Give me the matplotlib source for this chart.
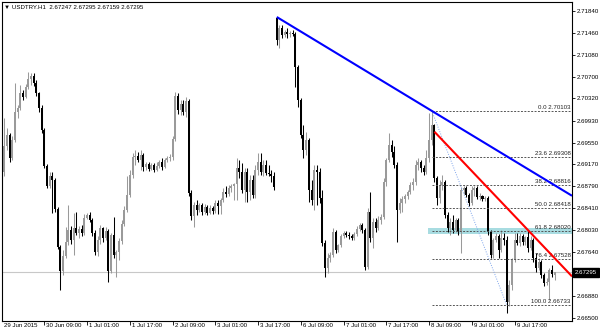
import matplotlib
matplotlib.use("Agg")
import matplotlib.pyplot as plt
import numpy as np

plt.rcParams['font.family'] = ['Liberation Sans', 'DejaVu Sans']

symbol = "USDTRY.H1"

# hourly candles (bar 0 = 29 Jun 2015 17:00)
opens = [
    2.68987, 2.69039, 2.69491, 2.69683, 2.69283, 2.69596, 2.70083, 2.70153, 2.70413, 2.70344,
    2.70518, 2.70657, 2.70709, 2.70587, 2.70413, 2.70153, 2.69770, 2.69144, 2.68796, 2.68970,
    2.68900, 2.68396, 2.67735, 2.67317, 2.67578, 2.67822, 2.68030, 2.67856, 2.68065, 2.67978,
    2.68048, 2.67978, 2.68239, 2.68291, 2.68204, 2.67978, 2.67648, 2.67856, 2.68065, 2.67891,
    2.68013, 2.67317, 2.67943, 2.67596, 2.67648, 2.67839, 2.68135, 2.68378, 2.68639, 2.68987,
    2.69300, 2.69317, 2.69248, 2.69335, 2.69126, 2.69178, 2.69091, 2.69161, 2.69074, 2.69144,
    2.69213, 2.69126, 2.69248, 2.69283, 2.69300, 2.69613, 2.70361, 2.70118, 2.70222, 2.70083,
    2.70274, 2.68674, 2.68274, 2.68465, 2.68378, 2.68465, 2.68343, 2.68430, 2.68326, 2.68413,
    2.68361, 2.68500, 2.68448, 2.68552, 2.68691, 2.68657, 2.68761, 2.68796, 2.68831, 2.69109,
    2.69039, 2.68726, 2.69039, 2.68691, 2.68900, 2.68639, 2.69074, 2.69213, 2.69039, 2.69161,
    2.69022, 2.69004, 2.68970, 2.71718, 2.71335, 2.71544, 2.71422, 2.71474, 2.71440, 2.71457,
    2.71440, 2.70866, 2.70292, 2.69683, 2.69422, 2.69596, 2.68726, 2.68552, 2.69074, 2.69039,
    2.68587, 2.67804, 2.67370, 2.67544, 2.67596, 2.67996, 2.67683, 2.67769, 2.67926, 2.67978,
    2.67943, 2.67926, 2.67891, 2.67961, 2.68048, 2.68117, 2.68030, 2.67387, 2.68343, 2.67891,
    2.68170, 2.68065, 2.68204, 2.68257, 2.68865, 2.69248, 2.69509, 2.69387, 2.69161, 2.68378,
    2.68500, 2.68570, 2.68622, 2.68691, 2.68813, 2.68865, 2.69161, 2.69213, 2.69109, 2.69039,
    2.69283, 2.69596, 2.69857, 2.68935, 2.68587, 2.68813, 2.68865, 2.68291, 2.68065, 2.68170,
    2.68030, 2.68204, 2.67996, 2.68726, 2.68761, 2.68639, 2.68500, 2.68726, 2.68761, 2.68604,
    2.68622, 2.68570, 2.68587, 2.67996, 2.67596, 2.67856, 2.67926, 2.67683, 2.67891, 2.67856,
    2.66778, 2.67074, 2.67509, 2.67856, 2.67804, 2.67926, 2.67822, 2.67909, 2.67717, 2.67856,
    2.67544, 2.67370, 2.67474, 2.67248, 2.67109, 2.67126, 2.67335, 2.67247,
]
highs = [
    2.69161, 2.69979, 2.69805, 2.69718, 2.69666, 2.70587, 2.70205, 2.70552, 2.70466, 2.70570,
    2.70779, 2.70761, 2.70761, 2.70640, 2.70431, 2.70205, 2.69805, 2.69178, 2.69039, 2.69039,
    2.68935, 2.68430, 2.67769, 2.67683, 2.68083, 2.68465, 2.68100, 2.68326, 2.68343, 2.68100,
    2.68117, 2.68309, 2.68326, 2.68343, 2.68239, 2.68030, 2.67926, 2.68117, 2.68083, 2.68083,
    2.68048, 2.67978, 2.68257, 2.67683, 2.67891, 2.68204, 2.68448, 2.68970, 2.69074, 2.69370,
    2.69422, 2.69387, 2.69422, 2.69370, 2.69213, 2.69213, 2.69196, 2.69196, 2.69213, 2.69248,
    2.69283, 2.69283, 2.69317, 2.69352, 2.69666, 2.70431, 2.70413, 2.70292, 2.70292, 2.70344,
    2.70309, 2.68726, 2.68517, 2.68552, 2.68500, 2.68500, 2.68483, 2.68465, 2.68465, 2.68448,
    2.68552, 2.68552, 2.68587, 2.68761, 2.68796, 2.68813, 2.68831, 2.68848, 2.69283, 2.69248,
    2.69196, 2.69109, 2.69109, 2.68987, 2.68987, 2.69161, 2.69370, 2.69370, 2.69248, 2.69248,
    2.69161, 2.69074, 2.69039, 2.71735, 2.71596, 2.71596, 2.71509, 2.71544, 2.71492, 2.71509,
    2.71474, 2.70900, 2.70326, 2.69857, 2.69735, 2.69631, 2.68900, 2.69161, 2.69161, 2.69109,
    2.68726, 2.67856, 2.67630, 2.67648, 2.68065, 2.68030, 2.67787, 2.67961, 2.68013, 2.68013,
    2.67996, 2.67961, 2.67996, 2.68100, 2.68152, 2.68152, 2.68065, 2.68413, 2.68691, 2.68239,
    2.68239, 2.68274, 2.68309, 2.68935, 2.69283, 2.69718, 2.69596, 2.69491, 2.69213, 2.68587,
    2.68622, 2.68657, 2.68726, 2.68865, 2.68935, 2.69248, 2.69283, 2.69248, 2.69161, 2.69422,
    2.70066, 2.70103, 2.69875, 2.68970, 2.68900, 2.68987, 2.68900, 2.68343, 2.68239, 2.68291,
    2.68239, 2.68239, 2.68778, 2.68796, 2.68796, 2.68674, 2.68796, 2.68796, 2.68796, 2.68674,
    2.68639, 2.68622, 2.68622, 2.68030, 2.67891, 2.67978, 2.67961, 2.68030, 2.67978, 2.67926,
    2.67161, 2.67544, 2.67978, 2.67978, 2.67978, 2.67961, 2.67926, 2.68030, 2.67926, 2.67891,
    2.67630, 2.67544, 2.67509, 2.67283, 2.67196, 2.67370, 2.67422, 2.67295,
]
lows = [
    2.68674, 2.68970, 2.69422, 2.69213, 2.69248, 2.69561, 2.69979, 2.70118, 2.70292, 2.70326,
    2.70483, 2.70552, 2.70535, 2.70361, 2.70083, 2.69718, 2.69109, 2.68761, 2.68761, 2.68326,
    2.68343, 2.67700, 2.66987, 2.67248, 2.67544, 2.67769, 2.67787, 2.67596, 2.67943, 2.67891,
    2.67926, 2.67943, 2.68222, 2.68170, 2.67926, 2.67596, 2.67578, 2.67787, 2.67822, 2.67856,
    2.67126, 2.67283, 2.67544, 2.67213, 2.67509, 2.67787, 2.68100, 2.68343, 2.68604, 2.68935,
    2.69161, 2.69213, 2.69074, 2.69057, 2.69074, 2.69057, 2.69074, 2.69039, 2.69057, 2.69109,
    2.69074, 2.69109, 2.69213, 2.69231, 2.69248, 2.69578, 2.70048, 2.70031, 2.70031, 2.69996,
    2.68622, 2.68204, 2.68083, 2.68291, 2.68343, 2.68291, 2.68309, 2.68291, 2.68309, 2.68309,
    2.68326, 2.68309, 2.68309, 2.68517, 2.68604, 2.68622, 2.68691, 2.68552, 2.68552, 2.68935,
    2.68674, 2.68517, 2.68517, 2.68552, 2.68587, 2.68587, 2.68987, 2.68987, 2.68970, 2.68987,
    2.68970, 2.68865, 2.68726, 2.71248, 2.71196, 2.71370, 2.71387, 2.71370, 2.71387, 2.71405,
    2.70518, 2.70170, 2.69631, 2.69283, 2.69335, 2.68517, 2.68465, 2.68378, 2.68465, 2.68500,
    2.67752, 2.67213, 2.67283, 2.67474, 2.67561, 2.67630, 2.67648, 2.67735, 2.67891, 2.67909,
    2.67874, 2.67856, 2.67856, 2.67926, 2.68013, 2.67978, 2.67335, 2.67352, 2.67822, 2.67717,
    2.67996, 2.68030, 2.68135, 2.68222, 2.68796, 2.69213, 2.69300, 2.69109, 2.67822, 2.68326,
    2.68343, 2.68500, 2.68570, 2.68657, 2.68726, 2.68813, 2.69074, 2.69039, 2.68987, 2.69004,
    2.69213, 2.69509, 2.68865, 2.68465, 2.68500, 2.68726, 2.68239, 2.67996, 2.67943, 2.67978,
    2.67996, 2.67943, 2.67630, 2.68657, 2.68604, 2.68448, 2.68465, 2.68622, 2.68570, 2.68552,
    2.68535, 2.68535, 2.67943, 2.67544, 2.67544, 2.67822, 2.67544, 2.67648, 2.67769, 2.66587,
    2.66709, 2.66987, 2.67474, 2.67769, 2.67752, 2.67769, 2.67769, 2.67648, 2.67683, 2.67474,
    2.67300, 2.67335, 2.67196, 2.67056, 2.67074, 2.66813, 2.67213, 2.67159,
]
closes = [
    2.69039, 2.69491, 2.69683, 2.69283, 2.69596, 2.70083, 2.70153, 2.70413, 2.70344, 2.70518,
    2.70657, 2.70709, 2.70587, 2.70413, 2.70153, 2.69770, 2.69144, 2.68796, 2.68970, 2.68900,
    2.68396, 2.67735, 2.67317, 2.67578, 2.67822, 2.68030, 2.67856, 2.68065, 2.67978, 2.68048,
    2.67978, 2.68239, 2.68291, 2.68204, 2.67978, 2.67648, 2.67856, 2.68065, 2.67891, 2.68013,
    2.67317, 2.67943, 2.67596, 2.67648, 2.67839, 2.68135, 2.68378, 2.68639, 2.68987, 2.69300,
    2.69317, 2.69248, 2.69335, 2.69126, 2.69178, 2.69091, 2.69161, 2.69074, 2.69144, 2.69213,
    2.69126, 2.69248, 2.69283, 2.69300, 2.69613, 2.70361, 2.70118, 2.70222, 2.70083, 2.70274,
    2.68674, 2.68274, 2.68465, 2.68378, 2.68465, 2.68343, 2.68430, 2.68326, 2.68413, 2.68361,
    2.68500, 2.68448, 2.68552, 2.68691, 2.68657, 2.68761, 2.68796, 2.68831, 2.69109, 2.69039,
    2.68726, 2.69039, 2.68691, 2.68900, 2.68639, 2.69074, 2.69213, 2.69039, 2.69161, 2.69022,
    2.69004, 2.68970, 2.68778, 2.71335, 2.71544, 2.71422, 2.71474, 2.71440, 2.71457, 2.71440,
    2.70866, 2.70292, 2.69683, 2.69422, 2.69596, 2.68726, 2.68552, 2.69074, 2.69039, 2.68587,
    2.67804, 2.67370, 2.67544, 2.67596, 2.67996, 2.67683, 2.67769, 2.67926, 2.67978, 2.67943,
    2.67926, 2.67891, 2.67961, 2.68048, 2.68117, 2.68030, 2.67387, 2.68343, 2.67891, 2.68170,
    2.68065, 2.68204, 2.68257, 2.68865, 2.69248, 2.69509, 2.69387, 2.69161, 2.68378, 2.68500,
    2.68570, 2.68622, 2.68691, 2.68813, 2.68865, 2.69161, 2.69213, 2.69109, 2.69039, 2.69283,
    2.69596, 2.69857, 2.68935, 2.68587, 2.68813, 2.68865, 2.68291, 2.68065, 2.68170, 2.68030,
    2.68204, 2.67996, 2.68726, 2.68761, 2.68639, 2.68500, 2.68726, 2.68761, 2.68604, 2.68622,
    2.68570, 2.68587, 2.67996, 2.67596, 2.67856, 2.67926, 2.67683, 2.67891, 2.67856, 2.66778,
    2.67074, 2.67509, 2.67856, 2.67804, 2.67926, 2.67822, 2.67909, 2.67717, 2.67856, 2.67544,
    2.67370, 2.67474, 2.67248, 2.67109, 2.67126, 2.67335, 2.67265, 2.67295,
]

time_tick_bars = [0, 16, 32, 48, 64, 80, 96, 112, 128, 144, 160, 176, 192]
time_tick_labels = ["29 Jun 2015", "30 Jun 09:00", "1 Jul 01:00", "1 Jul 17:00",
                    "2 Jul 09:00", "3 Jul 01:00", "3 Jul 17:00", "6 Jul 09:00",
                    "7 Jul 01:00", "7 Jul 17:00", "8 Jul 09:00", "9 Jul 01:00",
                    "9 Jul 17:00"]
price_ticks = [2.71840, 2.71460, 2.71080, 2.70700, 2.70320, 2.69930, 2.69550,
               2.69170, 2.68790, 2.68410, 2.68030, 2.67640, 2.66880, 2.66500]

# fibonacci retracement (from the 8 Jul high to the 9 Jul low)
fib_levels = [0.0, 23.6, 38.2, 50.0, 61.8, 76.4, 100.0]
fib_high = 2.70103
fib_low = 2.66733
fib_high_bar = 161
fib_low_bar = 189

# highlighted zone round the 61.8 level
zone_bar = 159.6
zone_low = 2.67961
zone_high = 2.68065

# trend lines: two anchor points each (bar, price), drawn as rays
blue_anchor = [(103, 2.71735), (161, 2.70103)]
red_anchor = [(162, 2.69740), (197, 2.68030)]

last_price = closes[-1]

x_left, x_right = 0.15, 213.5
y_bottom, y_top = 2.66448, 2.71996
fs = 4.4
up_col = '#9a9a9a'
down_col = '#000000'

fig = plt.figure(figsize=(6, 3.33), dpi=100)
ax = fig.add_axes([2 / 600, 12 / 333, 570 / 600, 319 / 333])
ax.set_xlim(x_left, x_right)
ax.set_ylim(y_bottom, y_top)

o = np.array(opens)
h = np.array(highs)
l = np.array(lows)
c = np.array(closes)
x = np.arange(len(o))
cols = np.where(c >= o, up_col, down_col)

# zone and bid line behind the candles
ax.fill_between([zone_bar, x_right], zone_low, zone_high, color='#a8dce1', lw=0, zorder=0.2)
ax.axhline(last_price, color='#c8c8c8', lw=0.8, zorder=0.3)

ax.vlines(x, l, h, colors=cols, lw=0.75, zorder=2)
body = np.maximum(np.abs(c - o), 0.00006)
ax.bar(x, body, bottom=np.minimum(o, c), width=0.75, color=cols, lw=0, zorder=2)

# fibonacci levels
rng = fib_high - fib_low
for lvl in fib_levels:
    p = fib_high - lvl / 100 * rng
    ax.plot([fib_high_bar, x_right], [p, p], color='#555555', lw=0.7,
            ls=(0, (2, 1.5)), zorder=3)
    ax.annotate(f"{lvl:.1f} {p:.5f}", xy=(x_right, p), xytext=(-1, 0.6),
                textcoords='offset points', ha='right', va='bottom',
                fontsize=fs, color='#222222', zorder=3)
ax.plot([fib_high_bar, fib_low_bar], [fib_high, fib_low], color='#7fa5ec',
        lw=0.7, ls=(0, (1, 1.5)), zorder=3)

# trend lines
for anchor, col in [(blue_anchor, '#0000ff'), (red_anchor, '#ff0000')]:
    (x0, y0), (x1, y1) = anchor
    slope = (y1 - y0) / (x1 - x0)
    ax.plot([x0, x_right], [y0, y0 + slope * (x_right - x0)], color=col,
            lw=1.5, zorder=4, solid_capstyle='butt')

# axes styling
for s in ax.spines.values():
    s.set_color('black')
    s.set_linewidth(0.8)

ax.yaxis.tick_right()
ax.set_yticks(price_ticks)
ax.set_yticklabels([f"{p:.5f}" for p in price_ticks])
ax.tick_params(axis='y', length=2.5, width=0.6, pad=1.2, labelsize=fs, colors='black')

ax.set_xticks(time_tick_bars[1:])
ax.tick_params(axis='x', length=3, width=0.6, labelbottom=False)
for b, lab in zip(time_tick_bars, time_tick_labels):
    ax.annotate(lab, xy=(b, 0), xycoords=('data', 'axes fraction'),
                xytext=(1.5, -1.5), textcoords='offset points', ha='left', va='top',
                fontsize=fs, annotation_clip=False)

# current price box on the price scale
ax.annotate(f"{last_price:.5f}", xy=(1, last_price), xycoords=('axes fraction', 'data'),
            xytext=(2.2, 0), textcoords='offset points', ha='left', va='center',
            fontsize=fs, color='white', annotation_clip=False,
            bbox=dict(boxstyle='square,pad=0.35', fc='black', ec='black'))

header = f"\u25bc {symbol}  {opens[-1]:.5f} {highs[-1]:.5f} {lows[-1]:.5f} {closes[-1]:.5f}"
fig.text(4 / 600, 1 - 7 / 333, header, fontsize=fs, va='center', ha='left')

fig.savefig("out.png", dpi=100)
